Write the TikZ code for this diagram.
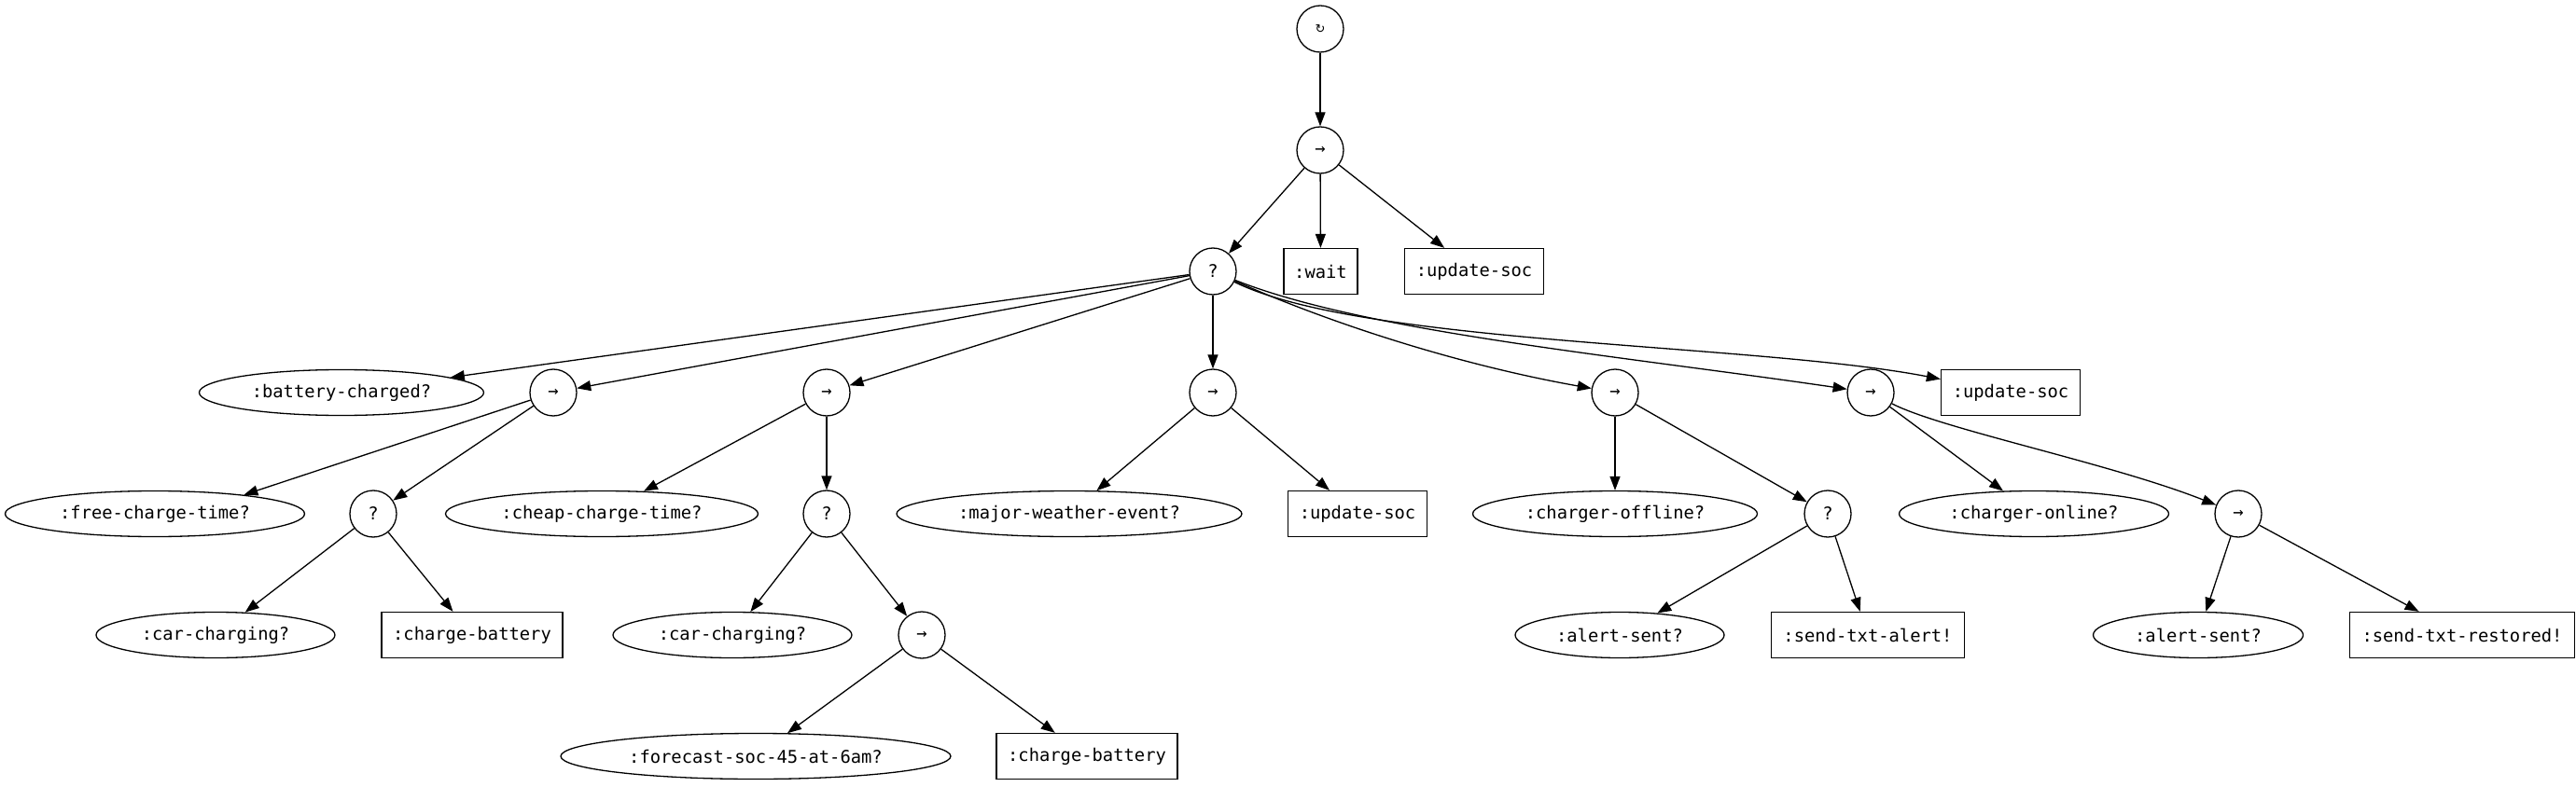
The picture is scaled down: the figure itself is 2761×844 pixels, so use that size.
\documentclass[tikz,border=0pt]{standalone}
\usepackage{fontspec}
\setmonofont{DejaVu Sans Mono}
\newfontfamily\symfont{DejaVu Sans}
\usetikzlibrary{shapes.geometric,arrows.meta}
\begin{document}
\begin{tikzpicture}[x=0.5pt,y=-0.5pt,
  every node/.style={font=\ttfamily\fontsize{9.4}{11}\selectfont, line width=0.65pt, draw, inner sep=0pt},
  ctl/.style={circle, minimum size=25pt},
  act/.style={rectangle, minimum height=24.5pt},
  cnd/.style={ellipse, minimum height=24.5pt},
  edge/.style={line width=0.65pt, -{Triangle[length=7.5pt,width=5.5pt]}}
]
\useasboundingbox (0,0) rectangle (2761,844);
% level 0-2
\node[ctl] (loop) at (1415,31) {{\symfont\fontsize{6.5}{7}\selectfont ↻}};
\node[ctl] (seq1) at (1415,161) {→};
\node[ctl] (sel1) at (1300,291) {?};
\node[act, minimum width=39.5pt] (wait) at (1415.5,291) {:wait};
\node[act, minimum width=74.5pt] (upd1) at (1580,291) {:update-soc};
% level 3
\node[cnd, minimum width=152.5pt] (bc) at (366,421) {:battery-charged?};
\node[ctl] (seq2) at (593,421) {→};
\node[ctl] (seq3) at (886,421) {→};
\node[ctl] (seq4) at (1300,421) {→};
\node[ctl] (seq5) at (1731,421) {→};
\node[ctl] (seq6) at (2005,421) {→};
\node[act, minimum width=74.5pt] (upd2) at (2155,421) {:update-soc};
% level 4
\node[cnd, minimum width=160.5pt] (fct) at (166,551) {:free-charge-time?};
\node[ctl] (sel2) at (400,551) {?};
\node[cnd, minimum width=167.5pt] (cct) at (645,551) {:cheap-charge-time?};
\node[ctl] (sel3) at (886,551) {?};
\node[cnd, minimum width=185pt] (mwe) at (1146,551) {:major-weather-event?};
\node[act, minimum width=74.5pt] (upd3) at (1455,551) {:update-soc};
\node[cnd, minimum width=152.5pt] (cof) at (1731,551) {:charger-offline?};
\node[ctl] (sel4) at (1959,551) {?};
\node[cnd, minimum width=144.5pt] (con) at (2180,551) {:charger-online?};
\node[ctl] (seq7) at (2399,551) {→};
% level 5
\node[cnd, minimum width=128pt] (cc1) at (231,681) {:car-charging?};
\node[act, minimum width=97pt] (cb1) at (506,681) {:charge-battery};
\node[cnd, minimum width=128pt] (cc2) at (785,681) {:car-charging?};
\node[ctl] (seq8) at (988,681) {→};
\node[cnd, minimum width=112pt] (as1) at (1736,681) {:alert-sent?};
\node[act, minimum width=103.5pt] (sta) at (2002,681) {:send-txt-alert!};
\node[cnd, minimum width=112.5pt] (as2) at (2356,681) {:alert-sent?};
\node[act, minimum width=120.5pt] (str) at (2639,681) {:send-txt-restored!};
% level 6
\node[cnd, minimum width=209pt] (fsoc) at (810,811) {:forecast-soc-45-at-6am?};
\node[act, minimum width=97pt] (cb2) at (1165,811) {:charge-battery};
% edges
\draw[edge] (loop) -- (seq1);
\draw[edge] (seq1) -- (sel1);
\draw[edge] (seq1) -- (wait);
\draw[edge] (seq1) -- (upd1);
\draw[edge] (sel1) -- (bc);
\draw[edge] (sel1) -- (seq2);
\draw[edge] (sel1) -- (seq3);
\draw[edge] (sel1) -- (seq4);
\draw[edge] (sel1) .. controls (1443,354) and (1579,394) .. (seq5);
\draw[edge] (sel1) .. controls (1464,356) and (1732,381) .. (seq6);
\draw[edge] (sel1) .. controls (1460,370) and (1880,368) .. (upd2);
\draw[edge] (seq2) -- (fct.12);
\draw[edge] (seq2) -- (sel2);
\draw[edge] (sel2) -- (cc1);
\draw[edge] (sel2) -- (cb1);
\draw[edge] (seq3) -- (cct);
\draw[edge] (seq3) -- (sel3);
\draw[edge] (sel3) -- (cc2);
\draw[edge] (sel3) -- (seq8);
\draw[edge] (seq8) -- (fsoc);
\draw[edge] (seq8) -- (cb2);
\draw[edge] (seq4) -- (mwe);
\draw[edge] (seq4) -- (upd3);
\draw[edge] (seq5) -- (cof);
\draw[edge] (seq5) -- (sel4);
\draw[edge] (sel4) -- (as1);
\draw[edge] (sel4) -- (sta);
\draw[edge] (seq6) -- (con);
\draw[edge] (seq6) .. controls (2080,460) and (2263,497) .. (seq7);
\draw[edge] (seq7) -- (as2);
\draw[edge] (seq7) -- (str);
\end{tikzpicture}
\end{document}
